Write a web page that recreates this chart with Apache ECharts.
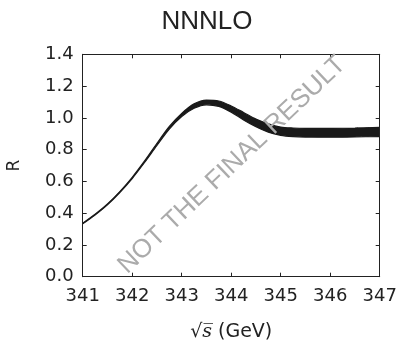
<!DOCTYPE html>
<html><head><meta charset="utf-8">
<script src="https://cdn.jsdelivr.net/npm/echarts@6/dist/echarts.min.js"></script>
<style>html,body{margin:0;padding:0;background:#fff}#c{width:399px;height:342px}</style>
</head><body><div id="c"></div>
<script>
var sqrtS  = [341.0,341.25,341.5,341.75,342.0,342.25,342.5,342.75,343.0,343.25,343.5,343.75,344.0,344.25,344.5,344.75,345.0,345.25,345.5,346.0,346.5,347.0];
var rLower = [0.333,0.389,0.453,0.530,0.618,0.719,0.826,0.929,1.008,1.060,1.082,1.072,1.036,0.987,0.944,0.910,0.890,0.882,0.879,0.878,0.880,0.882];
var rUpper = [0.337,0.393,0.458,0.536,0.626,0.729,0.840,0.946,1.028,1.088,1.112,1.106,1.075,1.034,0.992,0.962,0.942,0.936,0.934,0.934,0.936,0.940];
var xTicks = [341,342,343,344,345,346,347];
var yTicks = [0.0,0.2,0.4,0.6,0.8,1.0,1.2,1.4];

var lowerData = sqrtS.map(function(s,i){return [s, rLower[i]];});
var upperData = sqrtS.map(function(s,i){return [s, rUpper[i]];});

var chart = echarts.init(document.getElementById('c'), null, {renderer:'canvas'});
var axisCol = '#222';
var tickFont = {fontFamily:'DejaVu Sans', fontSize:18, color:'#222'};
function boxAxis(pos, isX){
  var o = {
    type:'value', position:pos, z:10,
    axisLine:{show:true, onZero:false, lineStyle:{color:axisCol, width:1}},
    axisTick:{show:true, inside:true, length:4, lineStyle:{color:axisCol}},
    axisLabel:{show:false}, splitLine:{show:false}
  };
  if(isX){o.min=xTicks[0];o.max=xTicks[xTicks.length-1];o.interval=1;}
  else{o.min=yTicks[0];o.max=yTicks[yTicks.length-1];o.interval=0.2;}
  return o;
}
var xb = boxAxis('bottom', true);
xb.axisLabel = Object.assign({show:true, margin:11, formatter:function(v){return String(Math.round(v));}}, tickFont);
xb.name = '{a|√}{s|s̅} (GeV)'; xb.nameLocation='middle'; xb.nameGap=46;
xb.nameTextStyle = {fontFamily:'DejaVu Sans', fontSize:19, color:'#222',
  rich:{a:{fontFamily:'DejaVu Sans', fontSize:19, color:'#222'}, s:{fontFamily:'DejaVu Serif', fontStyle:'italic', fontSize:19, color:'#222'}}};
var yl = boxAxis('left', false);
yl.axisLabel = Object.assign({show:true, margin:9, formatter:function(v){return v.toFixed(1);}}, tickFont);
yl.name='R'; yl.nameLocation='middle'; yl.nameGap=60;
yl.nameTextStyle={fontFamily:'DejaVu Sans', fontSize:17, color:'#222'};

chart.setOption({
  animation:false,
  title:{text:'NNNLO', left:202, top:4, textAlign:'center',
    textStyle:{fontFamily:'Liberation Sans', fontSize:26, fontWeight:'normal', color:'#222'}},
  grid:{left:82.7, right:19.3, top:54.3, bottom:65.3, containLabel:false, outerBoundsMode:'none'},
  xAxis:[xb, boxAxis('top', true)],
  yAxis:[yl, boxAxis('right', false)],
  series:[
    {type:'line', data:upperData, smooth:0.3, symbol:'none',
     lineStyle:{color:'#1a1a1a', width:1.2}, areaStyle:{color:'#1a1a1a', opacity:1, origin:'start'}, z:2},
    {type:'line', data:lowerData, smooth:0.3, symbol:'none',
     lineStyle:{color:'#1a1a1a', width:1.2}, areaStyle:{color:'#ffffff', opacity:1, origin:'start'}, z:2}
  ],
  graphic:[{
    type:'text', x:232, y:165, rotation:0.76, z:20,
    style:{text:'NOT THE FINAL RESULT', fontFamily:'Liberation Sans', fontSize:26,
      fill:'#ababab', textAlign:'center', textVerticalAlign:'middle'}
  }]
});
</script></body></html>
